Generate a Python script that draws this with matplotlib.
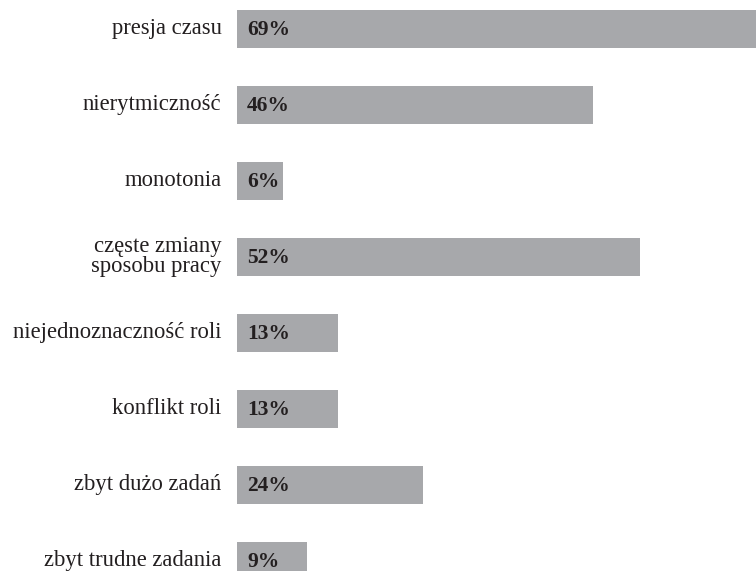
import matplotlib
matplotlib.use("Agg")
import matplotlib.pyplot as plt

categories = ["presja czasu", "nierytmiczność", "monotonia",
              "częste zmiany\nsposobu pracy", "niejednoznaczność roli",
              "konflikt roli", "zbyt dużo zadań", "zbyt trudne zadania"]
values = [69, 46, 6, 52, 13, 13, 24, 9]
value_labels = ["69%", "46%", "6%", "52%", "13%", "13%", "24%", "9%"]

W, H = 756, 571
fig = plt.figure(figsize=(W / 100, H / 100), dpi=100)
left = 237 / W
ax = fig.add_axes([left, 0, 1 - left, 1])

bar_color = "#a7a8ab"
text_color = "#231f20"
pos = list(range(len(categories)))
ax.barh(pos, values, height=0.5, color=bar_color, linewidth=0)

ax.set_xlim(0, 67)
ax.set_ylim(7 + (H - 560.5) / 76, -28.5 / 76)
ax.axis("off")

for p, cat, lab in zip(pos, categories, value_labels):
    ax.text(-2.0, p, cat, ha="right", va="center", fontsize=16.3,
            family="Liberation Serif", color=text_color, linespacing=0.88,
            clip_on=False)
    ax.text(1.3, p + 0.02, lab, ha="left", va="center", fontsize=15.5,
            family="Liberation Serif", fontweight="bold", color=text_color)

fig.savefig("out.png", dpi=100)
